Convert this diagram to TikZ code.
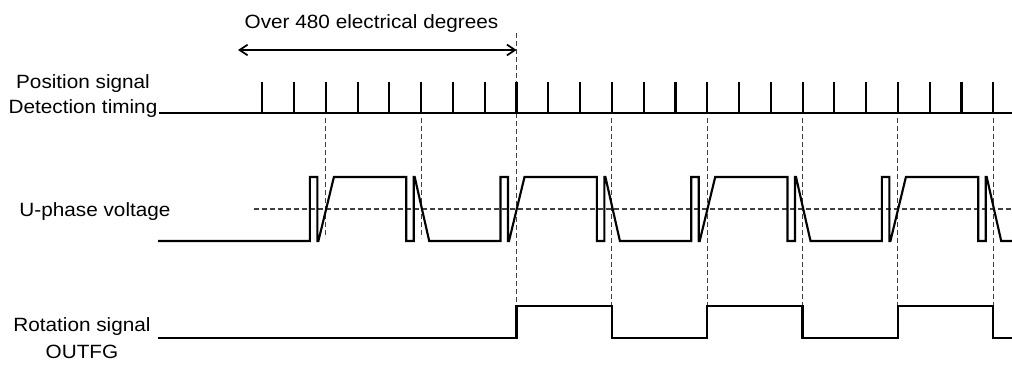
\documentclass[tikz,border=0pt]{standalone}
\usepackage{fontspec}
\setmainfont[FakeStretch=1.08]{Liberation Sans}
\usetikzlibrary{arrows.meta}
\begin{document}
\begin{tikzpicture}[x=0.75pt,y=-0.75pt,
  sig/.style={line width=1.6pt, line join=miter},
  guide/.style={line width=0.8pt, black!75, dash pattern=on 3.5pt off 2.5pt},
  lbl/.style={anchor=base, inner sep=0pt, font=\fontsize{14.4}{16}\selectfont},
  span/.style={line width=1.3pt, {Straight Barb[length=6pt,width=8pt]}-{Straight Barb[length=6pt,width=8pt]}}]
\useasboundingbox (0,0) rectangle (1012,364);

% labels
\node[lbl] (title) at (371.5,28) {Over 480 electrical degrees};
\node[lbl] (pos1) at (83,88) {Position signal};
\node[lbl] (pos2) at (83,113) {Detection timing};
\node[lbl] (uph) at (95,216.5) {U-phase voltage};
\node[lbl] (rot1) at (82,331) {Rotation signal};
\node[lbl] (rot2) at (82,358) {OUTFG};

% span arrow
\coordinate (aL) at (238,50);
\coordinate (aR) at (516.5,50);
\draw[span] (aL) -- (aR);

% guide lines
\draw[guide] (254,209) -- (1012,209);
\draw[guide] (516.5,33) -- (516.5,306);
\foreach \d in {325.9,421.2} \draw[guide] (\d,118) -- (\d,238);
\foreach \d in {611.9,707.2,802.5,897.9,993.2} \draw[guide] (\d,118) -- (\d,306);

% position signal detection timing
\draw[sig] (159,113) -- (1012,113);
\foreach \k in {0,...,23} \draw[sig] ({262.3+31.78*\k},113) -- ({262.3+31.78*\k},82);

% U-phase voltage
\draw[sig] (158,241)
  \foreach \r/\f in {325.9/421.2,516.5/611.9,707.2/802.5,897.9/993.2}{
    -- (\r-16,241) -- (\r-16,177) -- (\r-8.5,177) -- (\r-8.5,241) -- (\r-7.5,241) -- (\r+8,177)
    -- (\f-15,177) -- (\f-15,241) -- (\f-7.5,241) -- (\f-7.5,177) -- (\f-6.5,177) -- (\f+8,241)
  } -- (1012,241);

% rotation signal
\draw[sig] (158,338)
  \foreach \r/\f in {516.5/611.9,707.2/802.5,897.9/993.2}{
    -- (\r,338) -- (\r,306) -- (\f,306) -- (\f,338)
  } -- (1012,338);
\end{tikzpicture}
\end{document}
